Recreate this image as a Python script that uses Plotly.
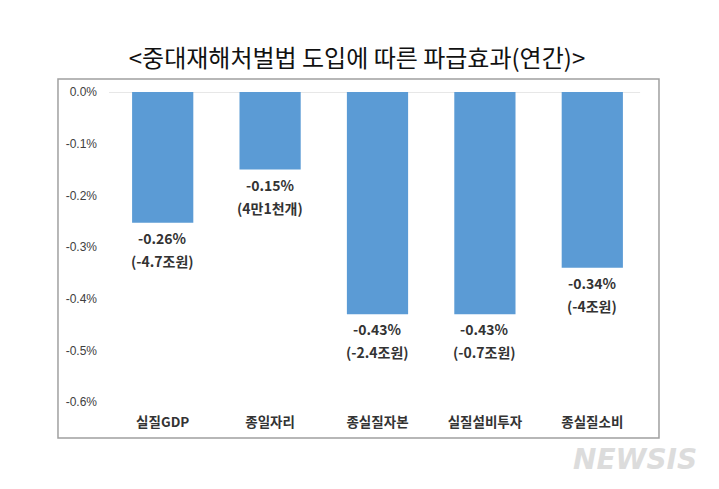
import plotly.graph_objects as go

categories = ["실질GDP", "종일자리", "종실질자본", "실질설비투자", "종실질소비"]
values = [-0.253, -0.15, -0.43, -0.43, -0.34]
pct_labels = ["-0.26%", "-0.15%", "-0.43%", "-0.43%", "-0.34%"]
amount_labels = ["(-4.7조원)", "(4만1천개)", "(-2.4조원)", "(-0.7조원)", "(-4조원)"]
y_ticks = [0.0, -0.1, -0.2, -0.3, -0.4, -0.5, -0.6]

FONT = "Noto Sans CJK KR, Malgun Gothic, sans-serif"

fig = go.Figure()
fig.add_trace(go.Bar(
    x=categories,
    y=values,
    marker=dict(color="#5B9BD5", line=dict(width=0)),
    width=0.57,
    hoverinfo="skip",
))

# two text lines under each bar
for cat, v, p, a in zip(categories, values, pct_labels, amount_labels):
    for txt, shift in ((p, -15), (a, -38)):
        fig.add_annotation(
            x=cat, y=v, xref="x", yref="y",
            text=f"<b>{txt}</b>", showarrow=False,
            yanchor="middle", yshift=shift,
            font=dict(family=FONT, size=14, color="#333333"),
        )

# page body has an 8px margin, so the figure is drawn 8px smaller
fig.update_layout(
    width=711, height=481,
    margin=dict(l=101, r=73, t=84, b=87),
    paper_bgcolor="white", plot_bgcolor="white",
    showlegend=False,
    title=dict(
        text="<중대재해처벌법 도입에 따른 파급효과(연간)>",
        x=(357 - 8) / 711, xanchor="center", y=0.894, yanchor="middle",
        font=dict(family=FONT, size=24, color="#111111"),
    ),
    xaxis=dict(
        showgrid=False, showline=False, zeroline=False, ticks="",
        ticklabelstandoff=10,
        tickfont=dict(family=FONT, size=13.5, color="#333333", weight="bold"),
    ),
    yaxis=dict(
        range=[-0.6, 0], showgrid=False, zeroline=False, showline=False,
        tickvals=y_ticks, ticktext=[f"{t:.1f}%" for t in y_ticks],
        ticks="", ticklabelstandoff=11,
        tickfont=dict(family="Liberation Sans, Arial, sans-serif", size=12, color="#404040"),
    ),
    shapes=[
        dict(type="rect", xref="paper", yref="paper",
             x0=-0.095, x1=1.0242, y0=-0.116, y1=1.042,
             line=dict(color="#a0a0a0", width=1.5), fillcolor="rgba(0,0,0,0)", layer="below"),
        dict(type="line", xref="paper", yref="y", x0=0.0, x1=0.989, y0=0, y1=0,
             line=dict(color="#d0d0d0", width=1), layer="below"),
    ],
)

fig.add_annotation(
    xref="paper", yref="paper", x=0.9795, y=-0.184, xanchor="center", yanchor="middle",
    text="<b><i>NEWSIS</i></b>", showarrow=False,
    font=dict(family="DejaVu Sans, sans-serif", size=28, color="#dcdcdc"),
)

fig.write_html("out.html")
